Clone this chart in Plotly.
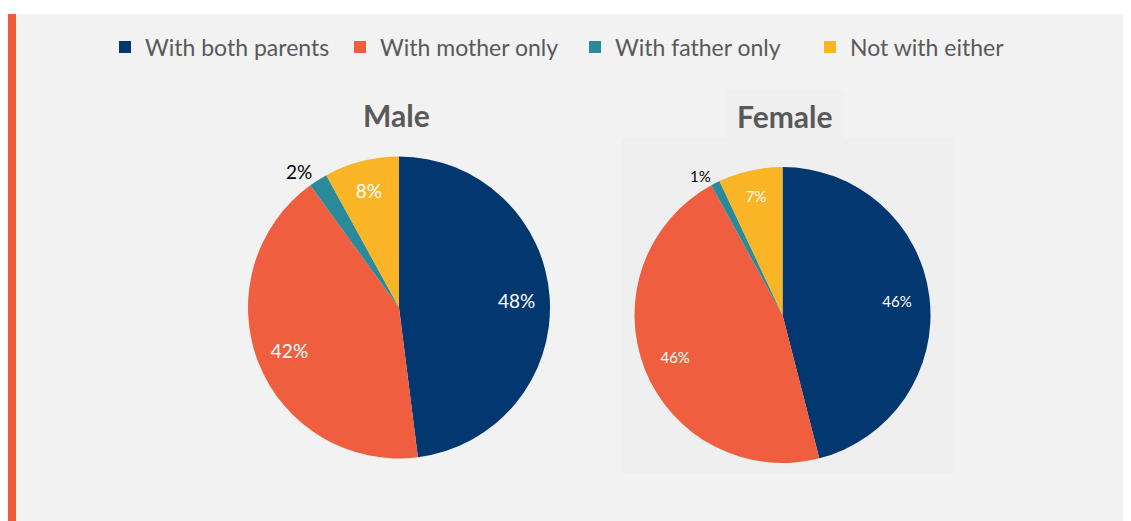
import plotly.graph_objects as go

# living arrangements, percent of children
categories = ["With both parents", "With mother only", "With father only", "Not with either"]
male_values = [48, 42, 2, 8]
female_values = [46, 46, 1, 7]
slice_colors = ["#03376f", "#ef5e3e", "#2a8a9a", "#f9b526"]

# the page body has an 8px margin, so the figure is shifted by that much
OFF = 8
W, H = 1131 - OFF, 521 - OFF
TEXT_GRAY = "#595959"
FONT = "Lato"


def px_x(v):
    return (v - OFF) / W


def px_y(v):
    return 1 - (v - OFF) / H


def pie_domain(cx, cy, r):
    return dict(x=[px_x(cx - r), px_x(cx + r)], y=[px_y(cy + r), px_y(cy - r)])


def make_pie(name, values, domain, show_legend):
    return go.Pie(
        name=name,
        labels=categories,
        values=values,
        domain=domain,
        sort=False,
        direction="clockwise",
        rotation=0,
        marker=dict(colors=slice_colors, line=dict(width=0)),
        textinfo="none",
        showlegend=show_legend,
        hoverinfo="label+percent",
    )


def make_labels(name, values, domain, size):
    # transparent ring on top of the pie, so the labels sit out near the rim
    return go.Pie(
        name=name,
        labels=categories,
        values=values,
        domain=domain,
        sort=False,
        direction="clockwise",
        rotation=0,
        hole=0.56,
        marker=dict(colors=["rgba(0,0,0,0)"] * 4, line=dict(width=0)),
        texttemplate="%{percent:.0%}",
        textposition=["inside", "inside", "outside", "inside"],
        insidetextorientation="horizontal",
        textfont=dict(family=FONT, size=size, color=["white", "white", "black", "white"]),
        showlegend=False,
        hoverinfo="skip",
    )


male_dom = pie_domain(399, 307.5, 151)
female_dom = pie_domain(782.5, 315, 148)

fig = go.Figure()
fig.add_trace(make_pie("Male", male_values, male_dom, True))
fig.add_trace(make_pie("Female", female_values, female_dom, False))
fig.add_trace(make_labels("Male", male_values, male_dom, 19))
fig.add_trace(make_labels("Female", female_values, female_dom, 15))

shapes = [
    # grey panel
    dict(type="rect", xref="paper", yref="paper", x0=px_x(8), x1=1, y0=0, y1=px_y(14),
         fillcolor="#f2f2f2", line=dict(width=0), layer="below"),
    # orange accent bar on the left
    dict(type="rect", xref="paper", yref="paper", x0=px_x(8), x1=px_x(16), y0=0, y1=px_y(14),
         fillcolor="#f15a36", line=dict(width=0), layer="below"),
    # faint boxes behind the female chart
    dict(type="rect", xref="paper", yref="paper", x0=px_x(621), x1=px_x(953), y0=px_y(473), y1=px_y(138),
         fillcolor="#efefef", line=dict(width=0), layer="below"),
    dict(type="rect", xref="paper", yref="paper", x0=px_x(727), x1=px_x(844), y0=px_y(138), y1=px_y(90),
         fillcolor="#efefef", line=dict(width=0), layer="below"),
]

annotations = [
    dict(text="<b>Male</b>", x=px_x(396), y=px_y(115), xref="paper", yref="paper",
         xanchor="center", yanchor="middle", showarrow=False,
         font=dict(family=FONT, size=30, color=TEXT_GRAY)),
    dict(text="<b>Female</b>", x=px_x(784), y=px_y(116), xref="paper", yref="paper",
         xanchor="center", yanchor="middle", showarrow=False,
         font=dict(family=FONT, size=30, color=TEXT_GRAY)),
]

fig.update_layout(
    width=W,
    height=H,
    margin=dict(l=0, r=0, t=0, b=0),
    paper_bgcolor="white",
    plot_bgcolor="white",
    shapes=shapes,
    annotations=annotations,
    legend=dict(
        orientation="h",
        x=px_x(575),
        xanchor="center",
        y=px_y(47),
        yanchor="middle",
        bgcolor="rgba(0,0,0,0)",
        font=dict(family=FONT, size=23, color=TEXT_GRAY),
        traceorder="normal",
        entrywidth=190,
        entrywidthmode="pixels",
    ),
)

fig.write_html("out.html")
